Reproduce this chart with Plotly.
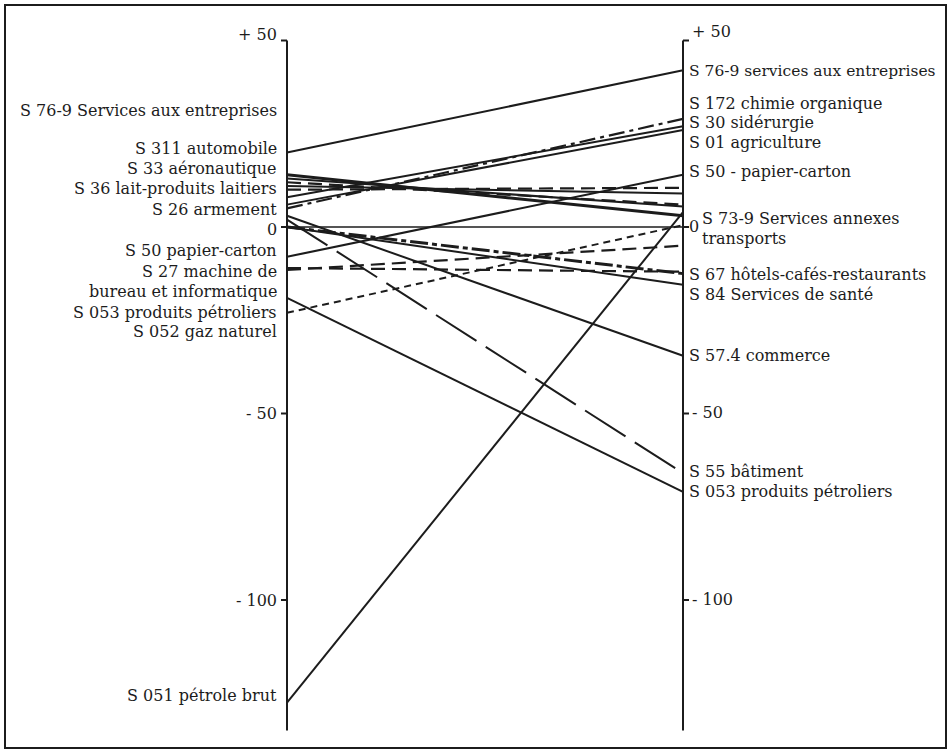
import plotly.graph_objects as go

# ---------------- data ----------------
sectors = [
    "S 76-9 services aux entreprises", "S 172 chimie organique", "S 30 sidérurgie",
    "S 01 agriculture", "S 50 papier-carton", "S 33 aéronautique", "S 311 automobile",
    "S 36 lait-produits laitiers", "S 26 armement", "secteur a", "S 051 pétrole brut",
    "S 57.4 commerce", "S 55 bâtiment", "S 053 produits pétroliers", "S 052 gaz naturel",
    "S 27 machine de bureau et informatique", "secteur b", "S 67 hôtels-cafés-restaurants",
    "S 84 services de santé",
]
left_values = [20, 5, 8, 6, -8, 14, 13, 10, 12, 11, -127.5, 3, 2, -19, -23, -11.5, -11, 0, 0]
right_values = [42, 29, 27, 26, 14, 3, 5.5, 10.5, 6, 9, 4, -34.5, -66, -71, 0.5, -5, -12, -12.5, -15.5]
line_kinds = ["solid", "dashdot", "solid", "solid", "solid", "heavy", "solid", "dash", "dash",
              "solid", "solid", "solid", "longdash", "solid", "shortdash", "dash", "dash",
              "heavydashdot", "solid"]

tick_values = [50, 0, -50, -100]
left_tick_labels = ["+ 50", "0", "- 50", "- 100"]
right_tick_labels = ["+ 50", "0", "- 50", "- 100"]

left_labels = ["S 76-9 Services aux entreprises", "S 311 automobile", "S 33 aéronautique",
               "S 36 lait-produits laitiers", "S 26 armement", "S 50 papier-carton",
               "S 27 machine de", "bureau et informatique", "S 053 produits pétroliers",
               "S 052 gaz naturel", "S 051 pétrole brut"]
left_label_pos = [31.3, 21.1, 15.8, 10.2, 4.8, -6.4, -12.0, -17.4, -23.0, -28.1, -125.7]

right_labels = ["S 76-9 services aux entreprises", "S 172 chimie organique", "S 30 sidérurgie",
                "S 01 agriculture", "S 50 - papier-carton", "S 73-9 Services annexes",
                "transports", "S 67 hôtels-cafés-restaurants", "S 84 Services de santé",
                "S 57.4 commerce", "S 55 bâtiment", "S 053 produits pétroliers"]
right_label_pos = [41.7, 33.2, 28.1, 22.7, 15.0, 2.4, -3.2, -12.6, -18.2, -34.5, -65.5, -70.9]
right_label_indent = [0, 0, 0, 0, 0, 13, 13, 0, 0, 0, 0, 0]
right_label_size = [15.5, 16, 16, 16, 16, 16, 16, 16, 16, 16, 16, 16]

# ---------------- styling ----------------
INK = "#1c1c1c"
FONT = "DejaVu Serif"
styles = {
    "solid": dict(width=2, dash="solid"),
    "heavy": dict(width=3, dash="solid"),
    "dash": dict(width=2.2, dash="14px,7px"),
    "shortdash": dict(width=2, dash="7px,5px"),
    "longdash": dict(width=2, dash="48px,11px"),
    "dashdot": dict(width=2.2, dash="16px,5px,4px,5px"),
    "heavydashdot": dict(width=3, dash="18px,4px,5px,4px"),
}

PX_X = 396.0      # pixels per x unit
PX_Y = 3.73       # pixels per y unit
fig = go.Figure()

# zero reference line
fig.add_trace(go.Scatter(x=[0, 1], y=[0, 0], mode="lines",
                         line=dict(color=INK, width=1.6), hoverinfo="skip", showlegend=False))

for name, lv, rv, kind in zip(sectors, left_values, right_values, line_kinds):
    st = styles[kind]
    fig.add_trace(go.Scatter(x=[0, 1], y=[lv, rv], mode="lines", name=name,
                             line=dict(color=INK, width=st["width"], dash=st["dash"]),
                             showlegend=False))

# axes
AX_BOTTOM = -135
for xa in (0, 1):
    fig.add_shape(type="line", xref="x", yref="y", x0=xa, x1=xa, y0=50, y1=AX_BOTTOM,
                  line=dict(color=INK, width=2))
tick_len = 6 / PX_X
for tv in tick_values:
    fig.add_shape(type="line", xref="x", yref="y", x0=-tick_len, x1=0, y0=tv, y1=tv,
                  line=dict(color=INK, width=2))
    fig.add_shape(type="line", xref="x", yref="y", x0=1, x1=1 + tick_len, y0=tv, y1=tv,
                  line=dict(color=INK, width=2))

ann = []
for tv, lab in zip(tick_values, left_tick_labels):
    ann.append(dict(x=0, y=tv, xref="x", yref="y", text=lab, showarrow=False,
                    xanchor="right", yanchor="middle", xshift=-8,
                    yshift=6 if tv == 50 else (-2 if tv == 0 else 0),
                    font=dict(family=FONT, size=16, color=INK)))
for tv, lab in zip(tick_values, right_tick_labels):
    ann.append(dict(x=1, y=tv, xref="x", yref="y", text=lab, showarrow=False,
                    xanchor="left", yanchor="middle", xshift=4 if tv == 0 else 7,
                    yshift=9 if tv == 50 else 1,
                    font=dict(family=FONT, size=16, color=INK)))
for lab, pos in zip(left_labels, left_label_pos):
    ann.append(dict(x=0, y=pos, xref="x", yref="y", text=lab, showarrow=False,
                    xanchor="right", yanchor="middle", xshift=-8,
                    font=dict(family=FONT, size=16, color=INK)))
for lab, pos, ind, fs in zip(right_labels, right_label_pos, right_label_indent, right_label_size):
    ann.append(dict(x=1, y=pos, xref="x", yref="y", text=lab, showarrow=False,
                    xanchor="left", yanchor="middle", xshift=4 + ind,
                    font=dict(family=FONT, size=fs, color=INK)))

# frame
fig.add_shape(type="rect", xref="paper", yref="paper", x0=0, x1=1, y0=0, y1=1,
              line=dict(color=INK, width=2))

L, R, T, B = 5, 5, 5, 4
W, H = 951, 752
x_min = -(287 - L) / PX_X
x_max = ((W - R) - 287) / PX_X
y_max = (227 - T) / PX_Y
y_min = -((H - B) - 227) / PX_Y

fig.update_layout(
    width=W, height=H, margin=dict(l=L, r=R, t=T, b=B),
    paper_bgcolor="white", plot_bgcolor="white",
    xaxis=dict(range=[x_min, x_max], visible=False, fixedrange=True),
    yaxis=dict(range=[y_min, y_max], visible=False, fixedrange=True),
    annotations=ann, showlegend=False,
)
fig.write_html("out.html", config={"displayModeBar": False},
               post_script="document.body.style.margin='0px';document.body.style.overflow='hidden';")
